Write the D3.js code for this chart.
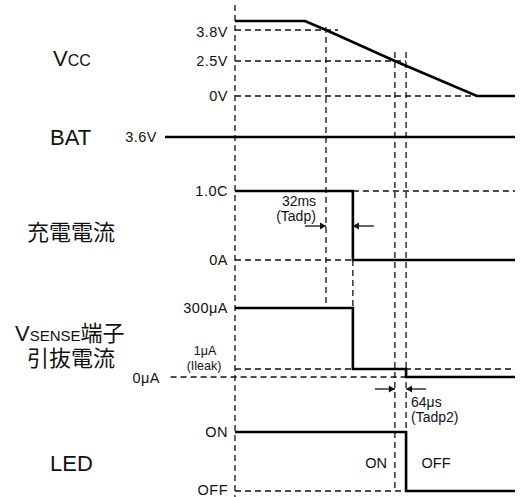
<!DOCTYPE html>
<html><head><meta charset="utf-8">
<script src="https://cdn.jsdelivr.net/npm/d3@7"></script>
<style>
body{margin:0;background:#fff}
svg{display:block}
text{font-family:"Liberation Sans","Noto Sans CJK JP",sans-serif;fill:#111}
</style>
</head><body>
<svg id="c" width="520" height="497"></svg>
<script>
// ---------- data ----------
const vccTimes   = [0, 25, 32.5, 57.1, 86.4, 100];
const vccValues  = [4.2, 4.2, 3.8, 2.5, 0, 0];
const vccTickValues = [3.8, 2.5, 0];
const vccTickLabels = ["3.8V", "2.5V", "0V"];

const batTimes  = [-25, 100];
const batValues = [3.6, 3.6];
const batTickLabels = ["3.6V"];

const chgTimes  = [0, 42.1, 42.1, 100];
const chgValues = [1, 1, 0, 0];
const chgTickValues = [1, 0];
const chgTickLabels = ["1.0C", "0A"];

const senseTimes  = [0, 42.1, 42.1, 61.1, 61.1, 100];
const senseValues = [300, 300, 1, 1, 0, 0];
const senseTickValues = [300, 0];
const senseTickLabels = ["300μA", "0μA"];

const ledTimes  = [0, 61.1, 61.1, 100];
const ledValues = [1, 1, 0, 0];
const ledTickValues = [1, 0];
const ledTickLabels = ["ON", "OFF"];

const tadpTimes  = [32.5, 42.1];   // 32ms (Tadp)
const tadp2Times = [57.1, 61.1];   // 64μs (Tadp2)

// ---------- scales ----------
const svg = d3.select("#c");
const x = d3.scaleLinear().domain([-25, 100]).range([165, 515]);
const yVcc = d3.scaleLinear().domain([0, 2.5, 3.8, 4.2]).range([96, 61, 30, 21]);
const yBat = d3.scaleLinear().domain([0, 3.6]).range([200, 137]);
const yChg = d3.scaleLinear().domain([0, 1]).range([260, 191]);
const ySense = d3.scaleLinear().domain([0, 1, 300]).range([377, 369, 308]);
const yLed = d3.scaleLinear().domain([0, 1]).range([491, 432]);

const DASH = "6,4";
const g = svg.append("g");

function hDash(t1, t2, y) {
  g.append("line").attr("x1", x(t1)).attr("x2", x(t2)).attr("y1", y).attr("y2", y)
   .attr("stroke", "#111").attr("stroke-width", 1.3).attr("stroke-dasharray", DASH);
}
function vDash(t, y1, y2) {
  g.append("line").attr("x1", x(t)).attr("x2", x(t)).attr("y1", y1).attr("y2", y2)
   .attr("stroke", "#111").attr("stroke-width", 1.3).attr("stroke-dasharray", DASH);
}
function tickLabel(txt, xp, y) {
  g.append("text").attr("x", xp).attr("y", y + 5).attr("text-anchor", "end")
   .attr("font-size", 14.5).attr("letter-spacing", 0.5).text(txt);
}
function signal(times, values, y) {
  const data = times.map((t, i) => ({t, v: values[i]}));
  g.append("path").datum(data)
   .attr("d", d3.line().x(d => x(d.t)).y(d => y(d.v)))
   .attr("fill", "none").attr("stroke", "#000").attr("stroke-width", 2.6)
   .attr("stroke-linejoin", "miter");
}

// ---------- guides ----------
vDash(0, 5, 497);
vDash(tadpTimes[0], yVcc(3.8) - 3, ySense(300));
vDash(tadpTimes[1], yChg(0), ySense(300));
vDash(tadp2Times[0], yVcc(2.5) - 9, yLed(0));
vDash(tadp2Times[1], yVcc(2.5) - 9, yLed(1));

hDash(0, 36.8, yVcc(3.8));
hDash(0, tadp2Times[1], yVcc(2.5));
hDash(0, 86.4, yVcc(0));
hDash(tadpTimes[1], 100, yChg(1));
hDash(0, tadpTimes[1], yChg(0));
hDash(0, 100, ySense(1));
hDash(-23, tadp2Times[1], ySense(0));
hDash(0, tadp2Times[1], yLed(0));

// ---------- signals ----------
signal(vccTimes, vccValues, yVcc);
signal(batTimes, batValues, yBat);
signal(chgTimes, chgValues, yChg);
signal(senseTimes, senseValues, ySense);
signal(ledTimes, ledValues, yLed);

// ---------- tick labels ----------
vccTickValues.forEach((v, i) => tickLabel(vccTickLabels[i], 228, yVcc(v) + (v === 3.8 ? 2 : 0)));
tickLabel(batTickLabels[0], 157, yBat(3.6));
chgTickValues.forEach((v, i) => tickLabel(chgTickLabels[i], 228, yChg(v)));
tickLabel(senseTickLabels[0], 228, ySense(300));
tickLabel(senseTickLabels[1], 160, ySense(0) + 1);
tickLabel(ledTickLabels[0], 228, yLed(1));
tickLabel(ledTickLabels[1], 228, yLed(0) - 1);

// ---------- signal names ----------
const vcc = g.append("text").attr("x", 53).attr("y", 66).attr("font-size", 22);
vcc.append("tspan").text("V");
vcc.append("tspan").attr("font-size", 16).text("CC");
g.append("text").attr("x", 50).attr("y", 145).attr("font-size", 22).text("BAT");
g.append("text").attr("x", 27).attr("y", 240).attr("font-size", 22).text("充電電流");
const vs = g.append("text").attr("x", 15).attr("y", 341).attr("font-size", 22);
vs.append("tspan").text("V");
vs.append("tspan").attr("font-size", 15).text("SENSE");
vs.append("tspan").text("端子");
g.append("text").attr("x", 27).attr("y", 366).attr("font-size", 22).text("引抜電流");
g.append("text").attr("x", 50).attr("y", 471).attr("font-size", 22).text("LED");

// ---------- annotations ----------
function arrowPair(times, y, ext) {
  const xa = x(times[0]), xb = x(times[1]);
  g.append("line").attr("x1", xa - ext).attr("x2", xa).attr("y1", y).attr("y2", y)
   .attr("stroke", "#111").attr("stroke-width", 1.3);
  g.append("line").attr("x1", xb).attr("x2", xb + ext).attr("y1", y).attr("y2", y)
   .attr("stroke", "#111").attr("stroke-width", 1.3);
  g.append("path").attr("d", `M${xa},${y}L${xa - 6},${y - 3.5}L${xa - 6},${y + 3.5}Z`).attr("fill", "#111");
  g.append("path").attr("d", `M${xb},${y}L${xb + 6},${y - 3.5}L${xb + 6},${y + 3.5}Z`).attr("fill", "#111");
}
arrowPair(tadpTimes, 226, 21);
arrowPair(tadp2Times, 389, 20);

g.append("text").attr("x", 299).attr("y", 206).attr("text-anchor", "middle").attr("font-size", 14).text("32ms");
g.append("text").attr("x", 296).attr("y", 221).attr("text-anchor", "middle").attr("font-size", 14).text("(Tadp)");
g.append("text").attr("x", 411).attr("y", 407).attr("font-size", 14).text("64μs");
g.append("text").attr("x", 411).attr("y", 422).attr("font-size", 14).text("(Tadp2)");
g.append("text").attr("x", 205).attr("y", 355).attr("text-anchor", "middle").attr("font-size", 12.5).text("1μA");
g.append("text").attr("x", 204).attr("y", 369.5).attr("text-anchor", "middle").attr("font-size", 12.5).text("(Ileak)");
g.append("text").attr("x", 376).attr("y", 468).attr("text-anchor", "middle").attr("font-size", 14.5).text("ON");
g.append("text").attr("x", 436).attr("y", 468).attr("text-anchor", "middle").attr("font-size", 14.5).text("OFF");
</script>
</body></html>
